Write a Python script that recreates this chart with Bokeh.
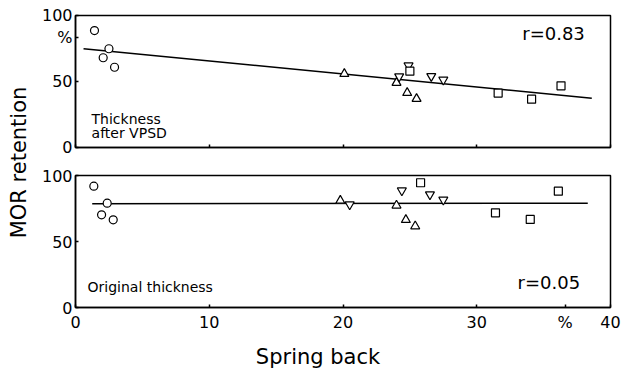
import math
from bokeh.plotting import figure
from bokeh.layouts import row, column
from bokeh.models import Range1d, FixedTicker, Label
from bokeh.embed import file_html
from bokeh.resources import INLINE

# ---------------- data ----------------
x_ticks = [0, 10, 20, 30, 40]
y_ticks = [0, 50, 100]
x_unit_pos = 36.6      # where the "%" unit sits on the x axis
y_unit_pos = 83        # where the "%" unit sits on the upper y axis

# upper panel: thickness after VPSD
top_circle_x = [1.42, 2.07, 2.5, 2.92]
top_circle_y = [88.6, 68.0, 74.8, 60.8]
top_tri_x = [20.1, 24.0, 24.8, 25.5]
top_tri_y = [55.8, 49.0, 41.4, 36.9]
top_inv_x = [24.2, 24.9, 26.6, 27.5]
top_inv_y = [53.8, 62.1, 54.0, 51.3]
top_sq_x = [25.0, 31.6, 34.1, 36.3]
top_sq_y = [57.8, 41.2, 36.6, 46.7]
top_fit_x = [0.6, 38.6]
top_fit_y = [74.8, 37.4]

# lower panel: original thickness
bot_circle_x = [1.37, 1.95, 2.37, 2.82]
bot_circle_y = [91.9, 70.2, 79.0, 66.4]
bot_tri_x = [19.8, 24.0, 24.7, 25.4]
bot_tri_y = [81.0, 77.3, 66.4, 61.6]
bot_inv_x = [20.5, 24.4, 26.5, 27.5]
bot_inv_y = [78.0, 88.6, 85.6, 81.6]
bot_sq_x = [25.8, 31.4, 34.0, 36.1]
bot_sq_y = [94.5, 71.7, 66.7, 88.1]
bot_fit_x = [1.25, 38.3]
bot_fit_y = [78.6, 79.0]

FONT = "DejaVu Sans"
PW = 589  # width of the plot column


def make_panel(height, top_border, bottom_border,
               cx, cy, tx, ty, ix, iy, sx, sy, fx, fy):
    p = figure(width=PW, height=height, output_backend="svg", toolbar_location=None,
               x_range=Range1d(0, 40), y_range=Range1d(0, 100),
               min_border_left=37, min_border_right=17,
               min_border_top=top_border, min_border_bottom=bottom_border)
    p.background_fill_color = "white"
    p.border_fill_color = "white"
    p.outline_line_color = "black"
    p.outline_line_width = 1.5
    p.xgrid.visible = False
    p.ygrid.visible = False
    for ax in (p.xaxis[0], p.yaxis[0]):
        ax.axis_line_color = "black"
        ax.axis_line_width = 1.5
        ax.major_tick_in = 3
        ax.major_tick_out = 0
        ax.major_tick_line_width = 1.5
        ax.minor_tick_line_color = None
        ax.major_label_text_font = FONT
        ax.major_label_text_color = "black"
    p.yaxis.major_label_text_font_size = "16px"
    p.yaxis.major_label_standoff = 3

    p.line(fx, fy, line_color="black", line_width=1.5)
    common = dict(fill_color="white", line_color="black", line_width=1.2)
    p.scatter(cx, cy, marker="circle", size=8, **common)
    p.scatter(tx, ty, marker="triangle", size=9, **common)
    p.scatter(ix, iy, marker="inverted_triangle", size=9, **common)
    p.scatter(sx, sy, marker="square", size=8, **common)
    return p


top = make_panel(158, 15, 11,
                 top_circle_x, top_circle_y, top_tri_x, top_tri_y,
                 top_inv_x, top_inv_y, top_sq_x, top_sq_y, top_fit_x, top_fit_y)
bot = make_panel(186, 17, 37,
                 bot_circle_x, bot_circle_y, bot_tri_x, bot_tri_y,
                 bot_inv_x, bot_inv_y, bot_sq_x, bot_sq_y, bot_fit_x, bot_fit_y)

# upper panel axes: unlabeled x ticks, "%" unit on the y axis
top.xaxis.ticker = FixedTicker(ticks=x_ticks)
top.xaxis.major_label_overrides = {t: "" for t in x_ticks}
top.xaxis.major_label_text_font_size = "8px"
top.xaxis.major_label_standoff = 0
top.yaxis.ticker = FixedTicker(ticks=y_ticks + [y_unit_pos])
top.yaxis.major_label_overrides = {y_unit_pos: "%"}

# lower panel axes: "%" unit on the x axis
bot.yaxis.ticker = FixedTicker(ticks=y_ticks)
bot.xaxis.ticker = FixedTicker(ticks=x_ticks + [x_unit_pos])
bot.xaxis.major_label_overrides = {x_unit_pos: "%"}
bot.xaxis.major_label_text_font_size = "16px"
bot.xaxis.major_label_standoff = 5

# annotations, upper panel
top.add_layout(Label(x=33.4, y=86, text="r=0.83", text_font=FONT, text_font_size="18px",
                     text_color="black", text_baseline="alphabetic"))
top.add_layout(Label(x=1.2, y=21.6, text="Thickness", text_font=FONT, text_font_size="14px",
                     text_color="black", text_baseline="alphabetic"))
top.add_layout(Label(x=1.2, y=11.0, text="after VPSD", text_font=FONT, text_font_size="14px",
                     text_color="black", text_baseline="alphabetic"))

# annotations, lower panel
bot.add_layout(Label(x=33.05, y=19.3, text="r=0.05", text_font=FONT, text_font_size="18px",
                     text_color="black", text_baseline="alphabetic"))
bot.add_layout(Label(x=0.9, y=15.5, text="Original thickness", text_font=FONT,
                     text_font_size="14px", text_color="black", text_baseline="alphabetic"))


def strip(width, height):
    f = figure(width=width, height=height, output_backend="svg", toolbar_location=None,
               x_range=Range1d(0, width), y_range=Range1d(0, height),
               min_border=0, x_axis_location=None, y_axis_location=None)
    f.outline_line_color = None
    f.xgrid.visible = False
    f.ygrid.visible = False
    return f


# x-axis title strip
xlab = strip(PW, 24)
xlab.add_layout(Label(x=267, y=12, text="Spring back", text_font=FONT,
                      text_font_size="21px", text_color="black",
                      text_align="center", text_baseline="middle"))

# shared y-axis title
lab = strip(38, 368)
lab.add_layout(Label(x=18, y=206, text="MOR retention", angle=math.pi / 2,
                     text_font=FONT, text_font_size="21px", text_color="black",
                     text_align="center", text_baseline="middle"))

layout = row(lab, column(top, bot, xlab))
open("out.html", "w").write(file_html(layout, INLINE))
